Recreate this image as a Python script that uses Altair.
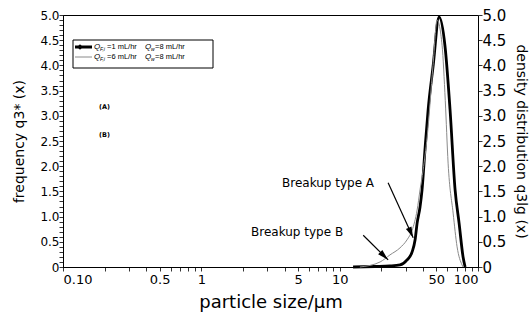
import math
import altair as alt
import pandas as pd

# ---------------- data ----------------
black_x = [12.5, 18, 23.1, 27.3, 30.7, 33.4, 35.1, 36.3, 38.1, 39.4, 41.5, 43.6,
           47.3, 52.3, 57.8, 62.8, 68.3, 73.0, 78.0, 80.7]
black_y = [0, 0.01, 0.02, 0.04, 0.14, 0.30, 0.54, 0.87, 1.19, 1.53, 2.38, 3.12,
           3.97, 4.96, 4.37, 3.12, 1.53, 0.87, 0.20, 0]

gray_x = [14, 19.6, 23.1, 27.3, 30.7, 33.4, 36.3, 38.1, 40.1, 42.9, 47.3, 50.6,
          55.0, 58.0, 60.8, 66.1, 70.6, 76.7, 78.0]
gray_y = [0, 0.10, 0.24, 0.38, 0.54, 0.73, 1.13, 1.53, 1.92, 2.58, 4.0, 4.90,
          4.4, 3.3, 2.06, 1.07, 0.40, 0.04, 0]

x_label_values = [0.1, 0.5, 1, 5, 10, 50, 100]
y_tick_values = [0, 0.5, 1.0, 1.5, 2.0, 2.5, 3.0, 3.5, 4.0, 4.5, 5.0]
y_minor_ticks = [round(i * 0.1, 1) for i in range(51)]
log_ticks = [m * 10 ** e for e in (-1, 0, 1) for m in range(1, 10)] + [100]

flow_fi = ["1", "6"]
flow_w = ["8", "8"]

ann_text = ["Breakup type A", "Breakup type B"]
ann_text_x = [8.24, 4.92]
ann_text_y = [1.67, 0.69]
arrow_x = [22.4, 14.8]
arrow_y = [1.67, 0.63]
arrow_x2 = [34.0, 22.4]
arrow_y2 = [0.58, 0.14]

# ---------------- layout ----------------
W, H = 415, 252
FONT = "DejaVu Sans"
xscale = alt.Scale(type="log", domain=[0.1, 100], nice=False)
yscale = alt.Scale(domain=[0, 5], nice=False, zero=False)

x_label_expr = ("indexof([0.5, 1, 5, 10, 50, 100], datum.value) >= 0 ? "
                "format(datum.value, '~g') : (abs(datum.value - 0.1) < 1e-9 ? '0.10' : '')")
y_label_expr = ("abs(datum.value * 2 - round(datum.value * 2)) < 1e-6 ? "
                "(datum.value == 0 ? '0' : format(datum.value, '.1f')) : ''")

xaxis = alt.Axis(
    values=log_ticks, ticks=True, tickSize=4, tickColor="black", tickWidth=0.8,
    grid=False, domain=True, domainColor="black", labelOverlap=False,
    labelExpr=x_label_expr,
    labelFont=FONT, labelFontSize=13, labelColor="black", labelPadding=2,
    title="particle size/µm", titleFont=FONT, titleFontSize=18,
    titleFontWeight="normal", titleColor="black", titlePadding=7)
yaxis = alt.Axis(
    values=y_minor_ticks, ticks=True, tickSize=4, tickColor="black", tickWidth=0.8,
    grid=False, domain=True, domainColor="black", labelOverlap=False,
    labelExpr=y_label_expr,
    labelFont=FONT, labelFontSize=12, labelColor="black", labelPadding=0,
    title="frequency q3* (x)", titleFont=FONT, titleFontSize=14,
    titleFontWeight="normal", titleColor="black", titlePadding=13)


def X(f):
    return alt.X(f, scale=xscale, axis=xaxis)


def Y(f):
    return alt.Y(f, scale=yscale, axis=yaxis)


curves = pd.DataFrame({
    "size": black_x + gray_x,
    "q": black_y + gray_y,
    "series": ["QF1"] * len(black_x) + ["QF6"] * len(gray_x),
})

one = pd.DataFrame({"a": [0]})

black_line = alt.Chart(curves[curves.series == "QF1"]).mark_line(
    color="black", strokeWidth=2.8, interpolate="monotone"
).encode(x=X("size:Q"), y=Y("q:Q"))

gray_line = alt.Chart(curves[curves.series == "QF6"]).mark_line(
    color="#8a8a8a", strokeWidth=1.0, interpolate="monotone"
).encode(x=X("size:Q"), y=Y("q:Q"))

# arrows and annotation text
arr = pd.DataFrame({"size": arrow_x, "q": arrow_y, "x2": arrow_x2, "y2": arrow_y2})
back = [0.09, 0.16]
arr["hx"] = [10 ** (math.log10(b) - f * (math.log10(b) - math.log10(a)))
             for a, b, f in zip(arrow_x, arrow_x2, back)]
arr["hy"] = [b - f * (b - a) for a, b, f in zip(arrow_y, arrow_y2, back)]
arr["ang"] = [156, 135]

arrow_lines = alt.Chart(arr).mark_rule(color="black", strokeWidth=1.2).encode(
    x=X("size:Q"), y=Y("q:Q"), x2="x2:Q", y2="y2:Q")
arrow_heads = alt.Chart(arr).mark_point(
    shape="M0,-1L0.55,1L-0.55,1Z", filled=True, color="black", size=120, opacity=1
).encode(x=X("hx:Q"), y=Y("hy:Q"), angle=alt.Angle("ang:Q", scale=None))

ann = pd.DataFrame({"t": ann_text, "size": ann_text_x, "q": ann_text_y})
ann_marks = alt.Chart(ann).mark_text(font=FONT, fontSize=12, color="black", fill="black",
                                     align="center", baseline="middle").encode(
    x=X("size:Q"), y=Y("q:Q"), text="t:N")

# legend box
legend_layers = [
    alt.Chart(one).mark_rect(fill="white", stroke="black", strokeWidth=1).encode(
        x=alt.value(10), x2=alt.value(150), y=alt.value(25), y2=alt.value(53)),
    alt.Chart(one).mark_rule(color="black", strokeWidth=3).encode(
        x=alt.value(12), x2=alt.value(29), y=alt.value(32)),
    alt.Chart(one).mark_point(shape="diamond", filled=True, color="black", size=30,
                              opacity=1).encode(x=alt.value(17), y=alt.value(32)),
    alt.Chart(one).mark_rule(color="#8a8a8a", strokeWidth=1).encode(
        x=alt.value(12), x2=alt.value(29), y=alt.value(42)),
]
for i, yy in enumerate([32, 42]):
    pieces = [
        (31, yy, "Q", 8, "italic"),
        (37, yy + 2, "F,i", 5, "italic"),
        (44, yy, "=" + flow_fi[i] + " mL/hr", 7.5, "normal"),
        (82, yy, "Q", 8, "italic"),
        (88, yy + 2, "w", 5, "italic"),
        (92, yy, "=" + flow_w[i] + " mL/hr", 7.5, "normal"),
    ]
    for px, py, t, fs, st in pieces:
        legend_layers.append(
            alt.Chart(one).mark_text(text=t, font="Liberation Sans", fontSize=fs,
                                     fontStyle=st, color="black", fill="black",
                                     align="left", baseline="middle").encode(
                x=alt.value(px), y=alt.value(py)))

for t, py in [("(A)", 92), ("(B)", 120)]:
    legend_layers.append(
        alt.Chart(one).mark_text(text=t, font="DejaVu Sans", fontSize=6.5,
                                 fontWeight="bold", color="black", fill="black",
                                 align="left", baseline="middle").encode(
            x=alt.value(36), y=alt.value(py)))

left_layer = alt.layer(
    black_line, gray_line, arrow_lines, arrow_heads, ann_marks, *legend_layers
)

right_layer = alt.Chart(pd.DataFrame({"v": y_tick_values})).mark_point(
    opacity=0, size=1
).encode(
    y=alt.Y("v:Q", scale=yscale, axis=alt.Axis(
        orient="right", values=y_tick_values, ticks=True, tickSize=4, tickColor="black",
        tickWidth=0.8, grid=False, domain=False, labelOverlap=False,
        labelExpr="datum.value == 0 ? '0' : format(datum.value, '.1f')",
        labelFont=FONT, labelFontSize=15, labelColor="black", labelPadding=0,
        title="density distribution q3lg (x)", titleFont=FONT, titleFontSize=14,
        titleFontWeight="normal", titleColor="black", titlePadding=8)),
    x=alt.value(W - 1),
)

chart = alt.layer(left_layer, right_layer).resolve_scale(y="independent").properties(
    width=W, height=H,
    autosize=alt.AutoSizeParams(type="none"),
    padding={"left": 63, "top": 15, "right": 54, "bottom": 55},
    background="white",
).configure_view(stroke="black", strokeWidth=1)

chart.save("out.html", embed_options={"renderer": "svg", "actions": False})
